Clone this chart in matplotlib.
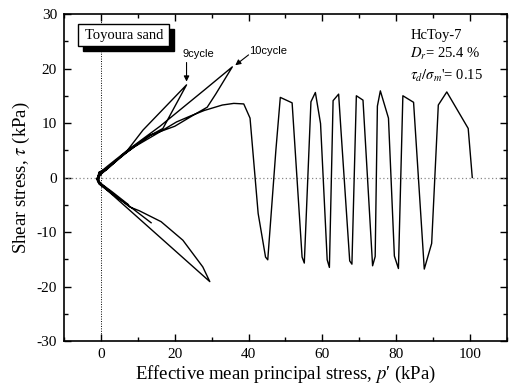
import matplotlib
matplotlib.use("Agg")
import matplotlib.pyplot as plt
from matplotlib.patches import Rectangle
from matplotlib.ticker import MultipleLocator

# cyclic part: starts at p'=100 and walks left, cycle by cycle
p_cyclic = [100.6, 99.5, 93.7, 91.4, 89.6, 87.6, 84.7, 81.8, 80.6, 79.5,
            77.9, 75.7, 74.9, 74.3, 73.6, 71.0, 69.2, 68.0, 67.4, 65.0,
            64.4, 62.9, 61.9, 61.3, 59.5, 58.1, 56.9, 55.1, 54.5, 51.8,
            48.6, 47.4, 45.2, 44.6, 42.6, 40.4, 38.7]
tau_cyclic = [0.0, 9.0, 15.7, 13.3, -12.1, -16.8, 13.8, 15.0, -16.7, -14.4,
              10.9, 15.9, 13.1, -14.5, -16.2, 14.2, 15.0, -15.9, -15.3, 9.0,
              15.3, 14.1, -16.5, -15.1, 9.9, 15.6, 13.9, -15.7, -14.6, 13.7,
              14.7, 5.0, -15.1, -14.6, -6.6, 10.9, 13.5]

# flow part near p'=0 (cycles 8-10)
p_flow = [36.0, 32.9, 28.0, 24.3, 20.5, 15.3, 9.0, 5.4, 1.5, -0.5,
          -1.0, 0.3, 4.0, 7.8, 10.4, 16.3, 22.2, 27.6, 29.5,
          0.5, -0.8, -0.5, 2.0, 7.2, 11.4, 23.2,
          16.8, 13.0, 7.0, 1.0, -1.2, -0.5, 3.0, 7.5,
          3.0, -0.6, -0.3, 2.0, 7.2, 16.0, 28.1, 35.6,
          31.1, 28.8, 25.2, 20.0, 13.5, 7.0, 1.5, -0.7, -0.9, 0.5, 4.0, 8.0, 13.6]
tau_flow = [13.6, 13.3, 12.3, 11.3, 10.2, 8.1, 5.6, 3.8, 1.6, 1.0,
            -0.3, -1.3, -3.4, -5.4, -6.1, -8.1, -11.5, -16.4, -19.1,
            -1.6, -0.6, 0.8, 2.2, 5.0, 8.7, 17.0,
            9.0, 7.6, 4.6, 1.2, -0.2, -1.2, -3.0, -5.0,
            -2.6, -0.8, 0.5, 1.8, 5.0, 9.4, 16.1, 20.3,
            15.3, 12.9, 11.5, 9.4, 7.8, 4.8, 1.4, 0.4, -0.7, -1.6, -3.4, -5.4, -8.3]

xticks = [0, 20, 40, 60, 80, 100]
yticks = [-30, -20, -10, 0, 10, 20, 30]

plt.rcParams['font.family'] = ['Liberation Serif', 'DejaVu Serif']
plt.rcParams['mathtext.fontset'] = 'stix'
plt.rcParams['axes.unicode_minus'] = False

fig = plt.figure(figsize=(5.09, 3.88), dpi=100)
ax = fig.add_axes([0.1257, 0.1211, 0.8703, 0.8428])

ax.axhline(0, color='#888888', lw=0.9, ls=(0, (1, 2)))
ax.axvline(0, color='black', lw=0.7, ls=(0, (1, 1.5)))

ax.plot(p_cyclic + p_flow, tau_cyclic + tau_flow, color='black', lw=1.0)

ax.set_xlim(-10, 110)
ax.set_ylim(-30, 30)
ax.set_xticks(xticks)
ax.set_yticks(yticks)
ax.xaxis.set_minor_locator(MultipleLocator(10))
ax.yaxis.set_minor_locator(MultipleLocator(5))
ax.tick_params(which='both', direction='in', top=True, right=True, width=1.0,
               labelsize=11)
ax.tick_params(which='major', length=5, pad=5)
ax.tick_params(which='minor', length=3)
for s in ax.spines.values():
    s.set_linewidth(1.2)

ax.set_xlabel("Effective mean principal stress, $p$′ (kPa)", fontsize=13.5, labelpad=2)
ax.set_ylabel(r"Shear stress, $\tau$ (kPa)", fontsize=13.5, labelpad=3)

# boxed title with drop shadow
ax.add_patch(Rectangle((0.043, 0.887), 0.206, 0.067, transform=ax.transAxes,
                       facecolor='black', edgecolor='black', zorder=4))
ax.add_patch(Rectangle((0.032, 0.902), 0.206, 0.067, transform=ax.transAxes,
                       facecolor='white', edgecolor='black', lw=1.0, zorder=5))
ax.text(0.135, 0.935, "Toyoura sand", transform=ax.transAxes, ha='center',
        va='center', fontsize=10.5, zorder=6)

arrow = dict(arrowstyle='-|>', color='black', lw=0.8, mutation_scale=8,
             shrinkA=0, shrinkB=0)
ax.text(22.0, 22.6, "9cycle", fontsize=8, family='Liberation Sans',
        ha='left', va='center')
ax.annotate("", xy=(23.2, 17.6), xytext=(23.2, 21.1), arrowprops=arrow)
ax.text(40.2, 23.3, "10cycle", fontsize=8, family='Liberation Sans',
        ha='left', va='center')
ax.annotate("", xy=(36.4, 20.6), xytext=(40.0, 22.5), arrowprops=arrow)

ax.text(83.8, 26.1, "HcToy-7", fontsize=10.5, ha='left', va='center')
ax.text(83.8, 22.6, "$D_r$= 25.4 %", fontsize=10.5, ha='left', va='center')
ax.text(83.8, 18.7, r"$\tau_d/\sigma_m$'= 0.15", fontsize=10.5, ha='left', va='center')

fig.savefig("out.png", dpi=100)
